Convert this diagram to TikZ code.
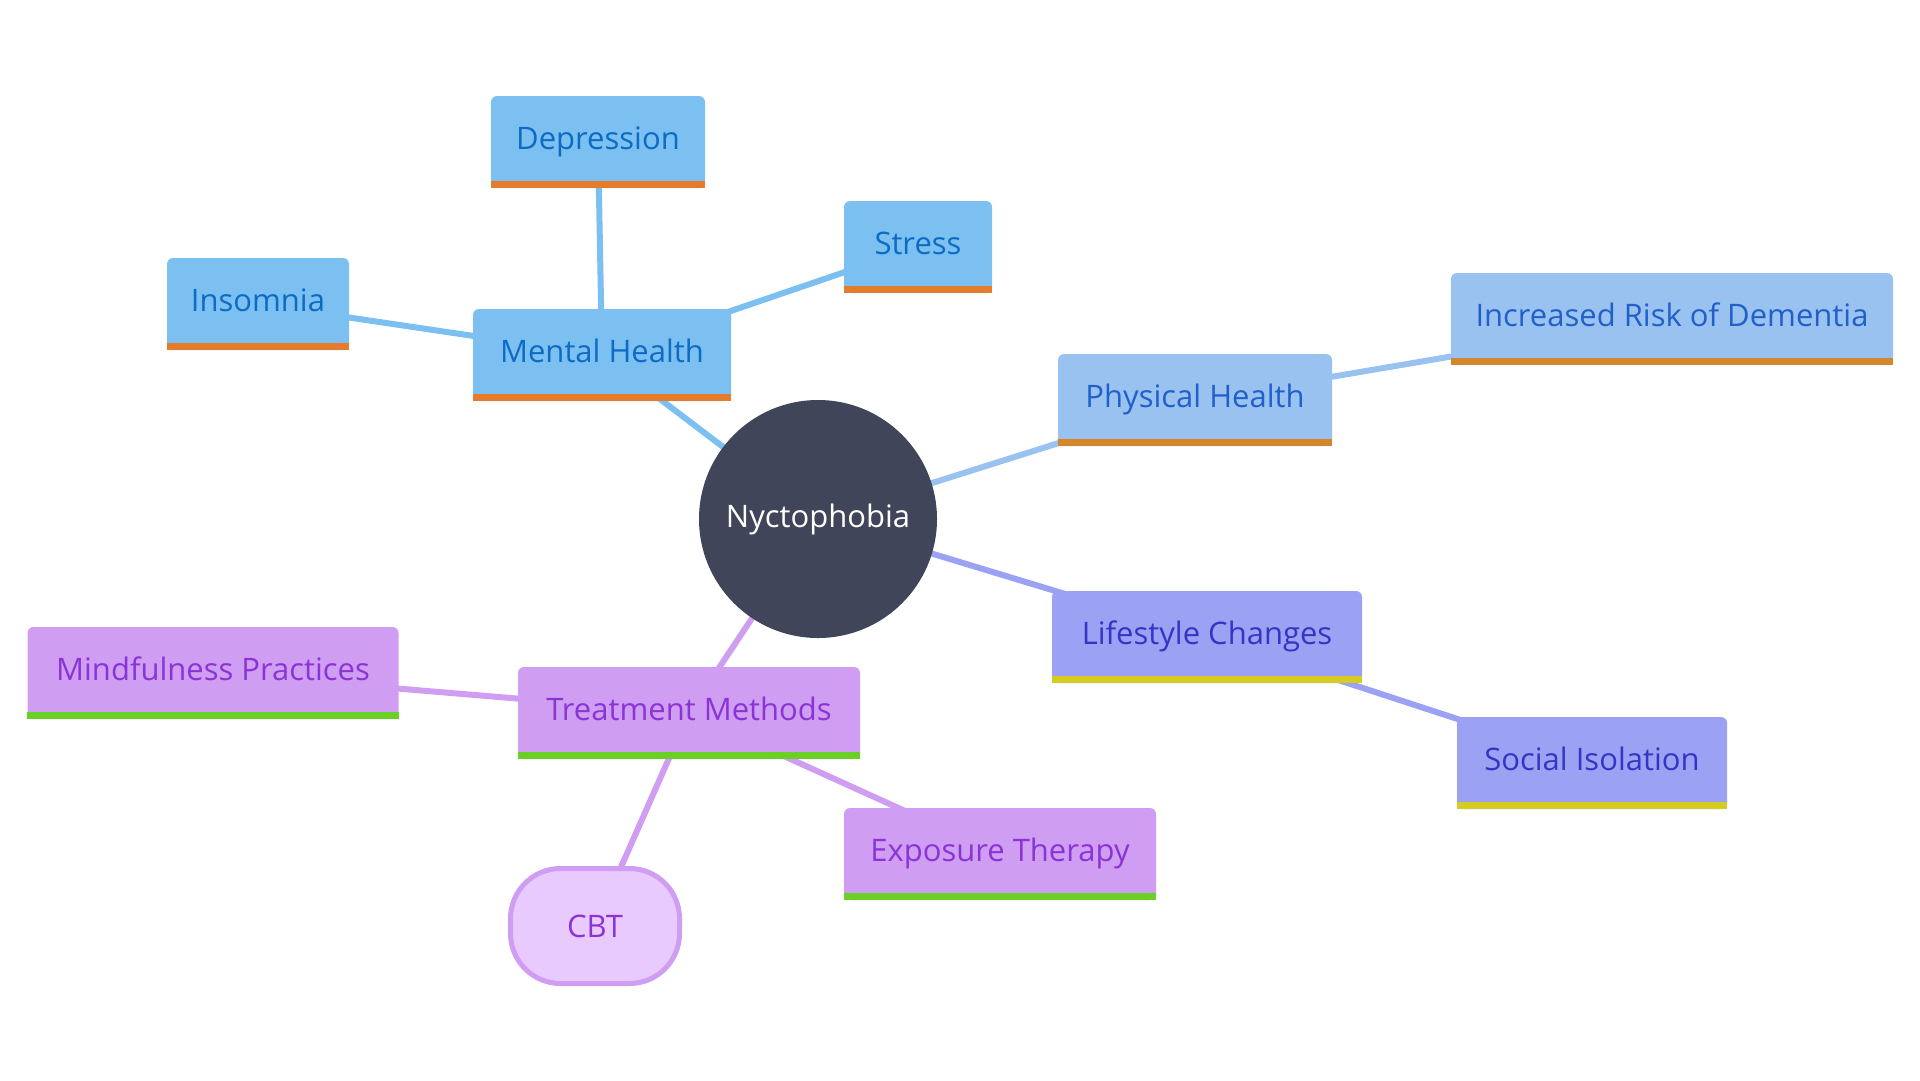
\documentclass[tikz,border=0pt]{standalone}
\usepackage{fontspec}
\setmainfont{Open Sans}
\pgfdeclarelayer{back}
\pgfdeclarelayer{bg}
\pgfsetlayers{back,bg,main}
\definecolor{mhfill}{HTML}{7CC0F1}
\definecolor{mhtext}{HTML}{0C6BC4}
\definecolor{mhbar}{HTML}{E57C2B}
\definecolor{phfill}{HTML}{9AC2F0}
\definecolor{phtext}{HTML}{2060C8}
\definecolor{phbar}{HTML}{D4862A}
\definecolor{lsfill}{HTML}{9BA1F3}
\definecolor{lstext}{HTML}{3535C5}
\definecolor{lsbar}{HTML}{D6CC21}
\definecolor{tmfill}{HTML}{CF9DF2}
\definecolor{tmtext}{HTML}{8B34D6}
\definecolor{tmbar}{HTML}{6AD026}
\definecolor{cbtfill}{HTML}{E8CAFF}
\definecolor{rootfill}{HTML}{414559}
\begin{document}
\begin{tikzpicture}[x=1pt,y=-1pt,
  box/.style={rectangle, rounded corners=6pt, minimum height=92pt, inner sep=0pt,
    text height=22pt, text depth=8pt, font=\fontsize{31}{36}\selectfont},
  mh/.style={box, fill=mhfill, text=mhtext},
  ph/.style={box, fill=phfill, text=phtext},
  ls/.style={box, fill=lsfill, text=lstext},
  tm/.style={box, fill=tmfill, text=tmtext},
  link/.style={line width=6pt},
]
\begin{pgfonlayer}{back}
\useasboundingbox[fill=white] (0,0) rectangle (1920,1080);
\end{pgfonlayer}

\node[circle, fill=rootfill, minimum size=238pt, inner sep=0pt, text=white,
  font=\fontsize{31}{36}\selectfont] (root) at (818,519) {Nyctophobia};

\node[mh, minimum width=258pt] (mental) at (602,355) {Mental Health};
\node[mh, minimum width=214pt] (dep) at (598,142) {Depression};
\node[mh, minimum width=148pt] (stress) at (918,247) {Stress};
\node[mh, minimum width=182pt] (insom) at (258,304) {Insomnia};

\node[ph, minimum width=274pt] (phys) at (1195,400) {Physical Health};
\node[ph, minimum width=442pt] (dem) at (1672,319) {Increased Risk of Dementia};

\node[ls, minimum width=310pt] (life) at (1207,637) {Lifestyle Changes};
\node[ls, minimum width=270pt] (social) at (1592,763) {Social Isolation};

\node[tm, minimum width=342pt] (treat) at (689,713) {Treatment Methods};
\node[tm, minimum width=371pt] (mind) at (213,673) {Mindfulness Practices};
\node[tm, minimum width=312pt] (expo) at (1000,854) {Exposure Therapy};
\node[rectangle, rounded corners=50pt, draw=tmfill, line width=5pt, fill=cbtfill,
  text=tmtext, minimum width=169pt, minimum height=115pt, inner sep=0pt,
  font=\fontsize{31}{36}\selectfont] (cbt) at (595,926) {CBT};

\foreach \n/\c in {mental/mhbar, dep/mhbar, stress/mhbar, insom/mhbar,
                   phys/phbar, dem/phbar, life/lsbar, social/lsbar,
                   treat/tmbar, mind/tmbar, expo/tmbar}
  \fill[\c] ([yshift=7pt]\n.south west) rectangle (\n.south east);

\begin{pgfonlayer}{bg}
  \draw[link, mhfill] (root.center) -- (mental.center);
  \draw[link, mhfill] (mental.center) -- (dep.center);
  \draw[link, mhfill] (mental.center) -- (stress.center);
  \draw[link, mhfill] (mental.center) -- (insom.center);
  \draw[link, phfill] (root.center) -- (phys.center);
  \draw[link, phfill] (phys.center) -- (dem.center);
  \draw[link, lsfill] (root.center) -- (life.center);
  \draw[link, lsfill] (life.center) -- (social.center);
  \draw[link, tmfill] (root.center) -- (treat.center);
  \draw[link, tmfill] (treat.center) -- (mind.center);
  \draw[link, tmfill] (treat.center) -- (expo.center);
  \draw[link, tmfill] (treat.center) -- (cbt.center);
\end{pgfonlayer}
\end{tikzpicture}
\end{document}
